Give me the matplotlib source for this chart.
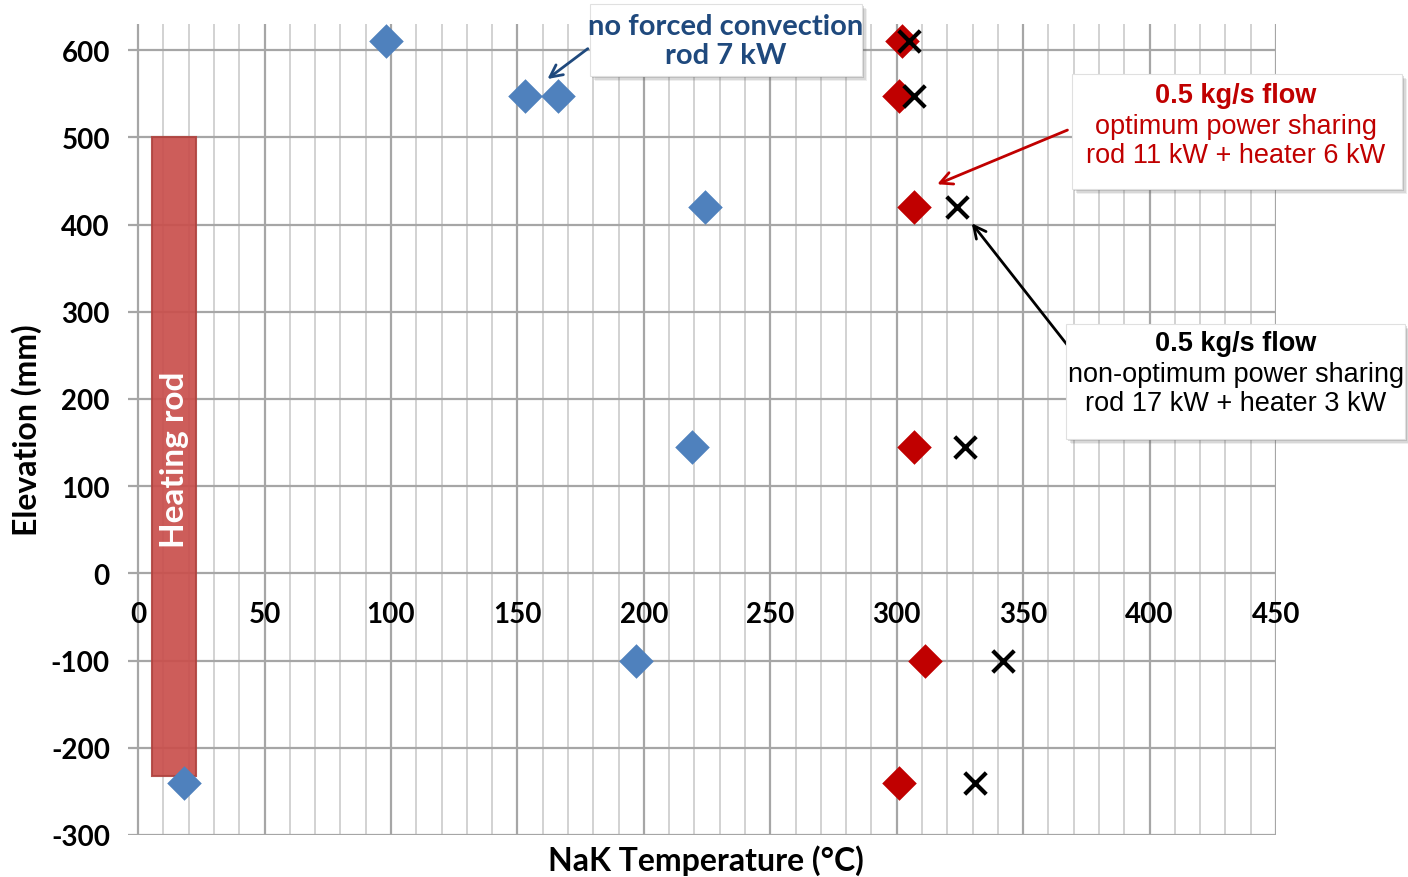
import numpy as np
import matplotlib
matplotlib.use('Agg')
import matplotlib.pyplot as plt
from matplotlib.patches import FancyBboxPatch

plt.rcParams['axes.unicode_minus'] = False

# data
elevation = [610, 548, 548, 420, 145, -100, -240]
no_flow_temp = [98, 153, 166, 224, 219, 197, 18]

elev_flow = [610, 548, 420, 145, -100, -240]
optimum_temp = [302, 301, 307, 307, 311, 301]
non_optimum_temp = [305, 307, 324, 327, 342, 331]

rod_x = [5.5, 23]        # heating rod extent in temperature axis
rod_y = [-232, 500]      # heating rod extent in elevation

x_ticks = list(range(0, 451, 50))
y_ticks = list(range(-300, 601, 100))

W, H = 1408, 878
fig = plt.figure(figsize=(W / 100, H / 100), dpi=100)
ax = fig.add_axes([128 / W, 1 - 836 / H, (1276 - 128) / W, (836 - 25) / H])

ax.set_xlim(-4, 450)
ax.set_ylim(-300, 630)

# grid: minor every 10, major every 50 (x); every 100 (y)
for v in range(0, 451, 10):
    major = v % 50 == 0
    ax.axvline(v, color='#a6a6a6' if major else '#cfcfcf', lw=1.6 if major else 1.3, zorder=0)
for v in y_ticks:
    ax.axhline(v, color='#a6a6a6', lw=1.6, zorder=0)

for s in ax.spines.values():
    s.set_visible(False)
ax.spines['bottom'].set_position(('data', 0))

ax.set_xticks(x_ticks)
ax.set_yticks(y_ticks)
ax.tick_params(length=0)
ax.tick_params(axis='x', pad=20)
ax.tick_params(axis='y', pad=13)
for lab in ax.get_xticklabels() + ax.get_yticklabels():
    lab.set_fontfamily('Lato')
    lab.set_fontweight('bold')
    lab.set_fontsize(20)

# heating rod
ax.bar(rod_x[0], rod_y[1] - rod_y[0], width=rod_x[1] - rod_x[0], bottom=rod_y[0],
       align='edge', color='#c94f4c', alpha=0.92, edgecolor='#b04440', lw=1.5, zorder=3)
ax.text(np.mean(rod_x), 131, 'Heating rod', rotation=90, color='white', fontsize=24,
        fontweight='bold', family='Lato', ha='center', va='center', zorder=4)

ax.scatter(no_flow_temp, elevation, marker='D', s=310, color='#4f81bd', lw=0, zorder=5)
ax.scatter(optimum_temp, elev_flow, marker='D', s=310, color='#c00000', lw=0, zorder=5)
ax.scatter(non_optimum_temp, elev_flow, marker='x', s=240, color='black', lw=3, zorder=6)

fig.text(27 / W, 1 - 430 / H, 'Elevation (mm)', rotation=90, fontsize=23, fontweight='bold',
         family='Lato', ha='center', va='center')
fig.text(706 / W, 1 - 861 / H, 'NaK Temperature (°C)', fontsize=23, fontweight='bold',
         family='Lato', ha='center', va='center')


def note_box(x0, y0, x1, y1):
    # white box with a soft grey shadow, pixel coords from top-left
    for i, a in enumerate([0.10, 0.15, 0.22]):
        off = 5 - i * 1.3
        sh = FancyBboxPatch(((x0 + off) / W, 1 - (y1 + off) / H), (x1 - x0) / W, (y1 - y0) / H,
                            boxstyle='square,pad=0', transform=fig.transFigure,
                            facecolor='#606060', edgecolor='none', alpha=a, zorder=7)
        fig.add_artist(sh)
    box = FancyBboxPatch((x0 / W, 1 - y1 / H), (x1 - x0) / W, (y1 - y0) / H,
                         boxstyle='square,pad=0', transform=fig.transFigure,
                         facecolor='white', edgecolor='#e0e0e0', lw=0.8, zorder=8)
    fig.add_artist(box)


# arrows
ax.annotate('', xy=(161, 565), xytext=(590 / W, 1 - 48 / H), textcoords='figure fraction',
            arrowprops=dict(arrowstyle='->', color='#1f497d', lw=2, mutation_scale=22), zorder=6)
ax.annotate('', xy=(315, 445), xytext=(1070 / W, 1 - 130 / H), textcoords='figure fraction',
            arrowprops=dict(arrowstyle='->', color='#c00000', lw=2, mutation_scale=22), zorder=6)
ax.annotate('', xy=(329, 404), xytext=(1072 / W, 1 - 352 / H), textcoords='figure fraction',
            arrowprops=dict(arrowstyle='->', color='black', lw=2, mutation_scale=22), zorder=6)

note_box(590, 5, 862, 77)
fig.text(726 / W, 1 - 27 / H, 'no forced convection', color='#1f497d', fontsize=21,
         fontweight='bold', family='Lato', ha='center', va='center', zorder=9)
fig.text(726 / W, 1 - 56 / H, 'rod 7 kW', color='#1f497d', fontsize=21,
         fontweight='bold', family='Lato', ha='center', va='center', zorder=9)

note_box(1072, 75, 1402, 190)
fig.text(1236 / W, 1 - 96 / H, '0.5 kg/s flow', color='#c00000', fontsize=19.5,
         fontweight='bold', family='Liberation Sans', ha='center', va='center', zorder=9)
fig.text(1236 / W, 1 - 127 / H, 'optimum power sharing', color='#c00000', fontsize=19.5,
         family='Liberation Sans', ha='center', va='center', zorder=9)
fig.text(1236 / W, 1 - 156 / H, 'rod 11 kW + heater 6 kW', color='#c00000', fontsize=19.5,
         family='Liberation Sans', ha='center', va='center', zorder=9)

note_box(1066, 325, 1405, 440)
fig.text(1236 / W, 1 - 344 / H, '0.5 kg/s flow', color='black', fontsize=19.5,
         fontweight='bold', family='Liberation Sans', ha='center', va='center', zorder=9)
fig.text(1236 / W, 1 - 375 / H, 'non-optimum power sharing', color='black', fontsize=19.5,
         family='Liberation Sans', ha='center', va='center', zorder=9)
fig.text(1236 / W, 1 - 404 / H, 'rod 17 kW + heater 3 kW', color='black', fontsize=19.5,
         family='Liberation Sans', ha='center', va='center', zorder=9)

fig.savefig('out.png', dpi=100)
